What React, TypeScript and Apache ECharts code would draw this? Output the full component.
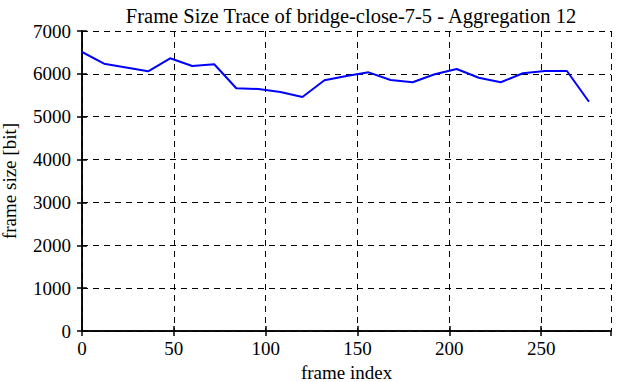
import React, { useEffect, useRef } from "react";
import * as echarts from "echarts";

const frameIndex = [0, 12, 24, 36, 48, 60, 72, 84, 96, 108, 120, 132, 144, 156, 168, 180, 192, 204, 216, 228, 240, 252, 264, 276];
const frameSize = [6510, 6237, 6150, 6060, 6363, 6183, 6223, 5663, 5647, 5577, 5460, 5850, 5950, 6035, 5857, 5803, 5990, 6113, 5910, 5803, 6013, 6067, 6067, 5350];

const FONT = "Liberation Serif";

export default function App() {
  const ref = useRef<HTMLDivElement>(null);
  useEffect(() => {
    if (!ref.current) return;
    const chart = echarts.init(ref.current, undefined, { renderer: "svg" });
    const axisLine = { show: true, lineStyle: { color: "#000", width: 1.5 } };
    const axisTick = { show: true, inside: true, length: 5, lineStyle: { color: "#000", width: 1.5 } };
    const splitLine = { show: true, lineStyle: { color: "#000", type: [6, 5] as any, width: 1 } };
    const fmt = (v: number) => String(v);
    chart.setOption({
      animation: false,
      backgroundColor: "#fff",
      textStyle: { fontFamily: FONT },
      title: {
        text: "Frame Size Trace of bridge-close-7-5 - Aggregation 12",
        left: 346,
        top: 0,
        textAlign: "center",
        textStyle: { fontFamily: FONT, fontSize: 20.5, fontWeight: "normal", color: "#000" },
      },
      grid: { left: 82, right: 6, top: 31, bottom: 51, containLabel: false, outerBoundsMode: "none" },
      xAxis: [
        {
          type: "value",
          min: 0,
          max: 288,
          interval: 50,
          name: "frame index",
          nameLocation: "middle",
          nameGap: 27,
          nameTextStyle: { fontFamily: FONT, fontSize: 19, color: "#000" },
          axisLine,
          axisTick,
          splitLine,
          axisLabel: { fontFamily: FONT, fontSize: 19, color: "#000", margin: 8, formatter: fmt, showMaxLabel: false },
        },
        {
          type: "value",
          position: "top",
          min: 0,
          max: 288,
          interval: 50,
          axisLine,
          axisTick,
          splitLine: { show: false },
          axisLabel: { show: false },
        },
      ],
      yAxis: [
        {
          type: "value",
          min: 0,
          max: 7000,
          interval: 1000,
          name: "frame size [bit]",
          nameLocation: "middle",
          nameGap: 63,
          nameTextStyle: { fontFamily: FONT, fontSize: 19, color: "#000" },
          axisLine,
          axisTick,
          splitLine,
          axisLabel: { fontFamily: FONT, fontSize: 19, color: "#000", margin: 11, formatter: fmt },
        },
        {
          type: "value",
          position: "right",
          min: 0,
          max: 7000,
          interval: 1000,
          axisLine,
          axisTick,
          splitLine: { show: false },
          axisLabel: { show: false },
        },
      ],
      series: [
        {
          type: "line",
          data: frameIndex.map((x, i) => [x, frameSize[i]]),
          symbol: "none",
          lineStyle: { color: "#0000ff", width: 2 },
          xAxisIndex: 0,
          yAxisIndex: 0,
        },
      ],
    });
    return () => chart.dispose();
  }, []);
  return <div ref={ref} style={{ width: 617, height: 382, position: "absolute", left: 0, top: 0 }} />;
}
